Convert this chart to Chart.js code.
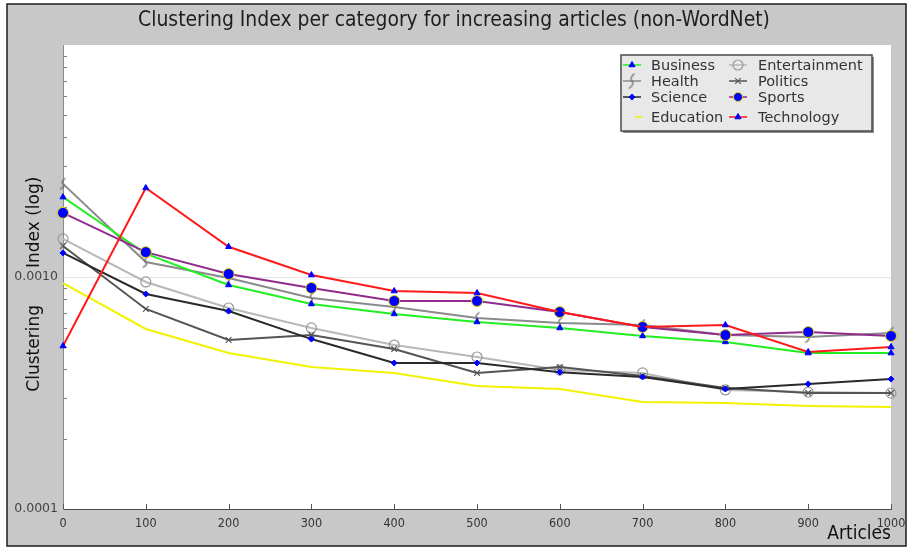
<!DOCTYPE html>
<html>
<head>
<meta charset="utf-8">
<script src="https://cdn.jsdelivr.net/npm/chart.js@4/dist/chart.umd.min.js"></script>
<style>
  html, body { margin: 0; padding: 0; background: #ffffff; }
  #wrap { width: 907px; height: 549px; }
</style>
</head>
<body>
<div id="wrap"><canvas id="chart" width="907" height="549"></canvas></div>
<script>
// Number of articles per run
const articles = [0, 100, 200, 300, 400, 500, 600, 700, 800, 900, 1000];

// Clustering index per category
const business      = [0.00221, 0.00126, 0.000924, 0.000765, 0.000693, 0.000640, 0.000603, 0.000557, 0.000525, 0.000470, 0.000470];
const entertainment = [0.00146, 0.000952, 0.000735, 0.000603, 0.000509, 0.000452, 0.000397, 0.000386, 0.000326, 0.000319, 0.000316];
const health        = [0.00252, 0.00116, 0.000990, 0.000812, 0.000743, 0.000666, 0.000633, 0.000621, 0.000562, 0.000551, 0.000574];
const politics      = [0.00136, 0.000728, 0.000535, 0.000562, 0.000489, 0.000386, 0.000409, 0.000374, 0.000332, 0.000316, 0.000316];
const science       = [0.00127, 0.000845, 0.000713, 0.000540, 0.000426, 0.000426, 0.000389, 0.000371, 0.000329, 0.000346, 0.000363];
const sports        = [0.00189, 0.00128, 0.00103, 0.000897, 0.000788, 0.000788, 0.000706, 0.000609, 0.000562, 0.000579, 0.000557];
const education     = [0.000942, 0.000597, 0.000470, 0.000409, 0.000386, 0.000339, 0.000329, 0.000289, 0.000286, 0.000278, 0.000275];
const technology    = [0.000504, 0.00242, 0.00135, 0.00102, 0.000870, 0.000853, 0.000706, 0.000609, 0.000621, 0.000475, 0.000499];

// Axis ticks
const xTicks = [0, 100, 200, 300, 400, 500, 600, 700, 800, 900, 1000];
const yMajor = [0.0001, 0.001, 0.01];
const yMinorFactors = [2, 3, 4, 5, 6, 7, 8, 9];
const yLabels = { '-4': '0.0001', '-3': '0.0010' };

const TITLE = 'Clustering Index per category for increasing articles (non-WordNet)';
const Y_TITLE_WORDS = ['Clustering', 'Index (log)'];
const X_TITLE = 'Articles';

const COND = '"DejaVu Sans Condensed", "Liberation Sans Narrow", sans-serif';
const SANS = '"DejaVu Sans", sans-serif';
const BLUE = '#0000ff';

// Small "ʃ" glyph used as the Health marker
function healthGlyph(h) {
  const c = document.createElement('canvas');
  c.width = 9; c.height = h;
  const g = c.getContext('2d');
  g.strokeStyle = '#6e6e6e';
  g.lineWidth = 1.3;
  g.beginPath();
  g.moveTo(7, 1);
  g.quadraticCurveTo(1.5, h * 0.35, 4.5, h * 0.5);
  g.quadraticCurveTo(7.5, h * 0.65, 1.5, h - 1);
  g.stroke();
  return c;
}
const healthMark = healthGlyph(13);
const healthLegendMark = healthGlyph(17);

const pts = arr => arr.map((v, i) => ({ x: articles[i], y: v }));

function series(label, data, line, style) {
  return Object.assign({
    label: label,
    data: pts(data),
    borderColor: line,
    borderWidth: 2,
    tension: 0,
    fill: false,
    clip: false,
    pointRadius: 0,
    pointBorderWidth: 1
  }, style);
}

const datasets = [
  series('Technology', technology, '#ff1a1a', { pointStyle: 'triangle', pointRadius: 3.5, pointBackgroundColor: BLUE, pointBorderColor: BLUE }),
  series('Sports', sports, '#902c8c', { pointStyle: 'circle', pointRadius: 5.5, pointBackgroundColor: BLUE, pointBorderColor: '#e6d200', pointBorderWidth: 1 }),
  series('Business', business, '#22ee22', { pointStyle: 'triangle', pointRadius: 3.5, pointBackgroundColor: BLUE, pointBorderColor: BLUE }),
  series('Health', health, '#8a8a8a', { pointStyle: healthMark, pointRadius: 4 }),
  series('Science', science, '#2a2a2a', { pointStyle: 'rectRot', pointRadius: 3, pointBackgroundColor: BLUE, pointBorderColor: BLUE }),
  series('Politics', politics, '#555555', { pointStyle: 'crossRot', pointRadius: 4, pointBorderColor: '#555555', pointBorderWidth: 1.2 }),
  series('Entertainment', entertainment, '#b8b8b8', { pointStyle: 'circle', pointRadius: 5, pointBackgroundColor: 'rgba(0,0,0,0)', pointBorderColor: '#9a9a9a', pointBorderWidth: 1.2 }),
  series('Education', education, '#f2f200', { pointRadius: 0 })
];

// Legend layout: [label, column, row]
const legendLayout = [
  ['Business', 0, 0], ['Entertainment', 1, 0],
  ['Health', 0, 1], ['Politics', 1, 1],
  ['Science', 0, 2], ['Sports', 1, 2],
  ['Education', 0, 3], ['Technology', 1, 3]
];

const decor = {
  id: 'decor',
  beforeDraw(chart) {
    const ctx = chart.ctx, a = chart.chartArea;
    ctx.save();
    ctx.fillStyle = '#ffffff';
    ctx.fillRect(0, 0, chart.width, chart.height);
    ctx.fillStyle = '#c8c8c8';
    ctx.fillRect(7, 4, 899, 542);
    ctx.strokeStyle = '#1e1e1e';
    ctx.lineWidth = 1.5;
    ctx.strokeRect(7, 4, 899, 542);
    ctx.fillStyle = '#ffffff';
    ctx.fillRect(a.left, a.top, a.right - a.left, a.bottom - a.top);
    ctx.restore();
  },
  beforeDatasetsDraw(chart) {
    const ctx = chart.ctx, a = chart.chartArea;
    const ys = chart.scales.y, xs = chart.scales.x;
    ctx.save();
    ctx.strokeStyle = '#808080';
    ctx.lineWidth = 1;
    // minor ticks of the log axis, drawn inward
    yMajor.slice(0, -1).forEach(m => {
      yMinorFactors.forEach(f => {
        const y = Math.round(ys.getPixelForValue(m * f)) + 0.5;
        ctx.beginPath();
        ctx.moveTo(a.left, y);
        ctx.lineTo(a.left + 4, y);
        ctx.stroke();
      });
    });
    // inward ticks on the article axis
    ctx.strokeStyle = '#555555';
    xTicks.forEach(v => {
      const x = Math.round(xs.getPixelForValue(v)) + 0.5;
      ctx.beginPath();
      ctx.moveTo(x, a.bottom);
      ctx.lineTo(x, a.bottom - 5);
      ctx.stroke();
    });
    ctx.restore();
  },
  afterDraw(chart) {
    const ctx = chart.ctx;
    ctx.save();
    // title, sized to span the same width as the plot heading
    let size = 18;
    ctx.font = size + 'px ' + COND;
    size = size * 632 / ctx.measureText(TITLE).width;
    ctx.font = size.toFixed(2) + 'px ' + COND;
    ctx.fillStyle = '#1e1e1e';
    ctx.textAlign = 'center';
    ctx.textBaseline = 'middle';
    ctx.fillText(TITLE, 454, 21);
    // x title
    ctx.font = '19px ' + COND;
    ctx.textAlign = 'right';
    ctx.fillStyle = '#111111';
    ctx.fillText(X_TITLE, 891, 534);
    // y title, its two words on either side of the 0.0010 label
    ctx.save();
    ctx.translate(35, 0);
    ctx.rotate(-Math.PI / 2);
    ctx.font = '17px ' + SANS;
    ctx.fillStyle = '#111111';
    ctx.textAlign = 'right';
    ctx.fillText(Y_TITLE_WORDS[0], -305, 0);
    ctx.textAlign = 'left';
    ctx.fillText(Y_TITLE_WORDS[1], -268, 0);
    ctx.restore();

    // legend box
    const bx = 621, by = 55, bw = 251, bh = 76;
    ctx.fillStyle = '#8c8c8c';
    ctx.fillRect(bx + 2, by + 2, bw, bh);
    ctx.fillStyle = '#e8e8e8';
    ctx.fillRect(bx, by, bw, bh);
    ctx.strokeStyle = '#4a4a4a';
    ctx.lineWidth = 1.5;
    ctx.strokeRect(bx, by, bw, bh);

    const colMark = [632, 738];
    const colText = [651, 758];
    const rowY = [65, 81, 97, 117];
    ctx.font = '14.5px ' + SANS;
    ctx.textAlign = 'left';
    ctx.textBaseline = 'middle';
    legendLayout.forEach(([label, c, r]) => {
      const ds = chart.data.datasets.find(d => d.label === label);
      const cx = colMark[c], cy = rowY[r];
      ctx.strokeStyle = ds.borderColor;
      ctx.lineWidth = 1.5;
      ctx.beginPath();
      if (label === 'Education') {
        ctx.moveTo(cx + 3, cy);
        ctx.lineTo(cx + 10, cy);
      } else {
        ctx.moveTo(cx - 9, cy);
        ctx.lineTo(cx + 9, cy);
      }
      ctx.stroke();
      if (ds.pointStyle && ds.pointRadius > 0) {
        if (typeof ds.pointStyle === 'string') {
          ctx.fillStyle = ds.pointBackgroundColor || 'rgba(0,0,0,0)';
          ctx.strokeStyle = ds.pointBorderColor || ds.borderColor;
          ctx.lineWidth = ds.pointBorderWidth;
          Chart.helpers.drawPoint(ctx, {
            pointStyle: ds.pointStyle,
            radius: ds.label === 'Sports' ? 4.5 : ds.pointRadius,
            rotation: 0,
            borderWidth: ds.pointBorderWidth
          }, cx, cy);
        } else {
          const m = healthLegendMark;
          ctx.drawImage(m, cx - m.width / 2, cy - m.height / 2);
        }
      }
      ctx.fillStyle = '#333333';
      ctx.fillText(label, colText[c], cy + 1);
    });
    ctx.restore();
  }
};

new Chart(document.getElementById('chart'), {
  type: 'line',
  data: { datasets: datasets },
  options: {
    responsive: false,
    animation: false,
    events: [],
    layout: { padding: { top: 45, right: 16, left: 0, bottom: 0 } },
    plugins: {
      legend: { display: false },
      title: { display: false },
      tooltip: { enabled: false }
    },
    scales: {
      x: {
        type: 'linear',
        min: 0,
        max: 1000,
        afterBuildTicks: s => { s.ticks = xTicks.map(v => ({ value: v })); },
        afterFit: s => { s.height = 40; s.paddingLeft = 0; s.paddingRight = 0; },
        ticks: {
          autoSkip: false,
          maxRotation: 0,
          padding: 7,
          color: '#333333',
          font: { family: COND, size: 12.5 },
          callback: v => String(v)
        },
        grid: { drawOnChartArea: false, drawTicks: false },
        border: { color: '#4a4a4a', width: 1 }
      },
      y: {
        type: 'logarithmic',
        min: 0.0001,
        max: 0.01,
        afterBuildTicks: s => { s.ticks = yMajor.map(v => ({ value: v })); },
        afterFit: s => { s.width = 63; s.paddingTop = 0; s.paddingBottom = 0; },
        ticks: {
          autoSkip: false,
          padding: 5,
          color: '#444444',
          font: { family: SANS, size: 12.5 },
          callback: v => yLabels[String(Math.round(Math.log10(v)))] || ''
        },
        grid: {
          drawTicks: false,
          lineWidth: 1,
          color: c => (c.tick && Math.round(Math.log10(c.tick.value)) === -3) ? '#e6e6e6' : 'rgba(0,0,0,0)'
        },
        border: { color: '#8a8a8a', width: 1 }
      }
    }
  },
  plugins: [decor]
});
</script>
</body>
</html>
